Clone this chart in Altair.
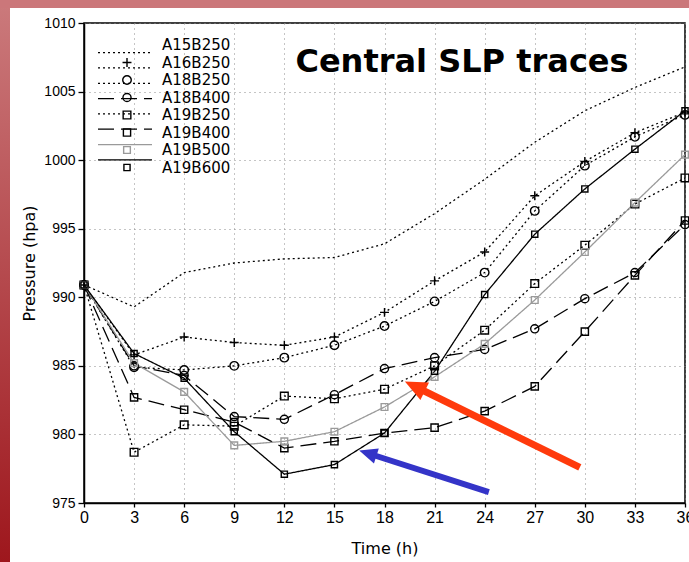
import altair as alt
import pandas as pd

# ---------------- data ----------------
hours = [0, 3, 6, 9, 12, 15, 18, 21, 24, 27, 30, 33, 36]
series_names = ["A15B250", "A16B250", "A18B250", "A18B400",
                "A19B250", "A19B400", "A19B500", "A19B600"]

a15b250 = [990.9, 989.3, 991.8, 992.5, 992.8, 992.9, 993.9, 996.1, 998.6, 1001.3, 1003.6, 1005.3, 1006.8]
a16b250 = [990.9, 985.8, 987.1, 986.7, 986.5, 987.1, 988.9, 991.2, 993.3, 997.4, 999.9, 1002.0, 1003.5]
a18b250 = [990.9, 984.9, 984.7, 985.0, 985.6, 986.5, 987.9, 989.7, 991.8, 996.3, 999.6, 1001.7, 1003.3]
a18b400 = [990.9, 985.0, 984.3, 981.3, 981.1, 982.9, 984.8, 985.6, 986.2, 987.7, 989.9, 991.8, 995.3]
a19b250 = [990.9, 978.7, 980.7, 980.6, 982.8, 982.6, 983.3, 985.0, 987.6, 991.0, 993.8, 996.8, 998.7]
a19b400 = [990.9, 982.7, 981.8, 980.9, 979.0, 979.5, 980.1, 980.5, 981.7, 983.5, 987.5, 991.6, 995.6]
a19b500 = [990.9, 985.2, 983.1, 979.2, 979.5, 980.2, 982.0, 984.2, 986.6, 989.8, 993.3, 996.9, 1000.4]
a19b600 = [990.9, 985.9, 984.1, 980.2, 977.1, 977.8, 980.1, 984.6, 990.2, 994.6, 997.9, 1000.8, 1003.6]

y_ticks = [975, 980, 985, 990, 995, 1000, 1005, 1010]
title_text = "Central SLP traces"
x_title = "Time (h)"
y_title = "Pressure  (hpa)"

# annotation arrows (data coordinates: hours, hPa)
arrow_names = ["red", "blue"]
arrow_tail_t = [29.7, 24.25]
arrow_tail_p = [977.6, 975.8]
arrow_head_t = [19.92, 17.09]
arrow_head_p = [983.44, 978.59]

# ---------------- tables ----------------
all_values = [a15b250, a16b250, a18b250, a18b400, a19b250, a19b400, a19b500, a19b600]
rows = []
for name, vals in zip(series_names, all_values):
    for t, p in zip(hours, vals):
        rows.append({"series": name, "time": t, "pressure": p})
df = pd.DataFrame(rows)
legend_df = pd.DataFrame({"series": series_names})
marker_series = series_names[1:]

arrows_df = pd.DataFrame({"arrow": arrow_names, "t0": arrow_tail_t, "p0": arrow_tail_p,
                          "t1": arrow_head_t, "p1": arrow_head_p})

# ---------------- styles ----------------
DOT = [2, 3]
DASH = [16, 7]
SOLID = [1, 0]
color_scale = alt.Scale(domain=series_names,
                        range=["black"] * 6 + ["#9a9a9a", "black"])
dash_scale = alt.Scale(domain=series_names,
                       range=[DOT, DOT, DOT, DASH, DOT, DASH, SOLID, SOLID])
plus_path = "M-1,0L1,0M0,-1L0,1"
shape_scale = alt.Scale(domain=marker_series,
                        range=[plus_path, "circle", "circle", "square", "square", "square", "square"])
size_scale = alt.Scale(domain=marker_series, range=[80, 38, 38, 50, 50, 50, 50])

RED = "#ff3a0c"
BLUE = "#3434c8"
red_head_path = "M-0.897,-0.441L0.297,0.982L0.959,-0.364Z"
blue_head_path = "M-0.953,-0.305L0.438,0.928L0.896,-0.501Z"

x_axis = alt.Axis(values=hours, title=x_title, grid=True, gridDash=[1, 4], gridColor="#8a8a8a",
                  gridWidth=1, domainColor="black", domainWidth=1.5, tickColor="black",
                  tickSize=4, tickWidth=1.3, labelFont="Liberation Sans", labelFontSize=16,
                  labelColor="black", labelPadding=2, labelFlush=False, labelOverlap=False,
                  titleFont="DejaVu Sans", titleFontSize=16, titleFontWeight="normal",
                  titleColor="black", titlePadding=15)
y_axis = alt.Axis(values=y_ticks, format="d", title=y_title, grid=True, gridDash=[1, 4],
                  gridColor="#8a8a8a", gridWidth=1, domainColor="black", domainWidth=1.5,
                  tickColor="black", tickSize=6, tickWidth=1.3, labelFont="Liberation Sans",
                  labelFontSize=14, labelColor="black", labelPadding=3, labelFlush=False,
                  labelOverlap=False, titleFont="DejaVu Sans", titleFontSize=16,
                  titleFontWeight="normal", titleColor="black", titlePadding=6)

x_scale = alt.Scale(domain=[0, 36], nice=False, zero=False)
y_scale = alt.Scale(domain=[975, 1010], nice=False, zero=False)


def X(field):
    return alt.X(f"{field}:Q", scale=x_scale, axis=x_axis)


def Y(field, axis=None):
    return alt.Y(f"{field}:Q", scale=y_scale, axis=axis)


# ---------------- decorations (red frame strips) ----------------
one = pd.DataFrame({"k": [0]})
grad = alt.LinearGradient(gradient="linear",
                          stops=[alt.GradientStop(color="#cb7a7c", offset=0),
                                 alt.GradientStop(color="#9e171d", offset=1)],
                          x1=0, x2=0, y1=0, y2=1)
left_strip = alt.Chart(one).mark_rect(fill=grad, strokeWidth=0).encode(
    x=alt.value(-84), x2=alt.value(-74), y=alt.value(-23), y2=alt.value(539))
top_strip = alt.Chart(one).mark_rect(fill="#cb777a", strokeWidth=0).encode(
    x=alt.value(-84), x2=alt.value(605), y=alt.value(-23), y2=alt.value(-15))

# ---------------- main series ----------------
lines = alt.Chart(df).mark_line(strokeWidth=1.3).encode(
    x=X("time"), y=Y("pressure", y_axis),
    color=alt.Color("series:N", scale=color_scale, legend=None),
    strokeDash=alt.StrokeDash("series:N", scale=dash_scale, legend=None),
)
points = alt.Chart(df).transform_filter(
    alt.FieldOneOfPredicate(field="series", oneOf=marker_series)
).mark_point(filled=False, strokeWidth=1.4, opacity=1).encode(
    x=X("time"), y=Y("pressure"),
    color=alt.Color("series:N", scale=color_scale, legend=None),
    shape=alt.Shape("series:N", scale=shape_scale, legend=None),
    size=alt.Size("series:N", scale=size_scale, legend=None),
)

# ---------------- legend (inside plot, top-left) ----------------
leg_y = alt.Y("series:N", scale=alt.Scale(domain=series_names, range=[22, 144.5], padding=0), axis=None)
leg_lines = alt.Chart(legend_df).mark_rule(strokeWidth=1.3).encode(
    x=alt.value(14), x2=alt.value(68), y=leg_y,
    color=alt.Color("series:N", scale=color_scale, legend=None),
    strokeDash=alt.StrokeDash("series:N", scale=dash_scale, legend=None),
)
leg_points = alt.Chart(legend_df).transform_filter(
    alt.FieldOneOfPredicate(field="series", oneOf=marker_series)
).mark_point(filled=False, strokeWidth=1.4, opacity=1).encode(
    x=alt.value(43), y=leg_y,
    color=alt.Color("series:N", scale=color_scale, legend=None),
    shape=alt.Shape("series:N", scale=shape_scale, legend=None),
    size=alt.Size("series:N", scale=size_scale, legend=None),
)
leg_text = alt.Chart(legend_df).mark_text(align="left", baseline="middle", font="DejaVu Sans",
                                          fontSize=15, color="black").encode(
    x=alt.value(78), y=leg_y, text="series:N")

# ---------------- title text ----------------
title_df = pd.DataFrame({"label": [title_text]})
title = alt.Chart(title_df).mark_text(align="center", baseline="alphabetic", font="DejaVu Sans",
                                      fontSize=32, fontWeight="bold", color="black").encode(
    x=alt.value(378), y=alt.value(48.5), text="label:N")

# ---------------- arrows ----------------
red_df = arrows_df[arrows_df["arrow"] == "red"]
blue_df = arrows_df[arrows_df["arrow"] == "blue"]
shaft_red = alt.Chart(red_df).mark_rule(color=RED, strokeWidth=7).encode(
    x=X("t0"), x2="t1:Q", y=Y("p0"), y2="p1:Q")
shaft_blue = alt.Chart(blue_df).mark_rule(color=BLUE, strokeWidth=6).encode(
    x=X("t0"), x2="t1:Q", y=Y("p0"), y2="p1:Q")
head_red = alt.Chart(red_df).mark_point(
    shape=red_head_path, filled=True, opacity=1, size=676, color=RED, strokeWidth=0).encode(
    x=X("t1"), y=Y("p1"))
head_blue = alt.Chart(blue_df).mark_point(
    shape=blue_head_path, filled=True, opacity=1, size=450, color=BLUE, strokeWidth=0).encode(
    x=X("t1"), y=Y("p1"))

chart = alt.layer(
    left_strip, top_strip, lines, points, leg_lines, leg_points, leg_text, title,
    shaft_red, shaft_blue, head_red, head_blue
).resolve_scale(y="independent").properties(
    width=601, height=480,
    autosize=alt.AutoSizeParams(type="none"),
    padding={"left": 84, "top": 23, "right": 4, "bottom": 59},
    background="white",
).configure_view(stroke="black", strokeWidth=1.5)

chart.save("out.html", embed_options={"renderer": "svg", "actions": False})
